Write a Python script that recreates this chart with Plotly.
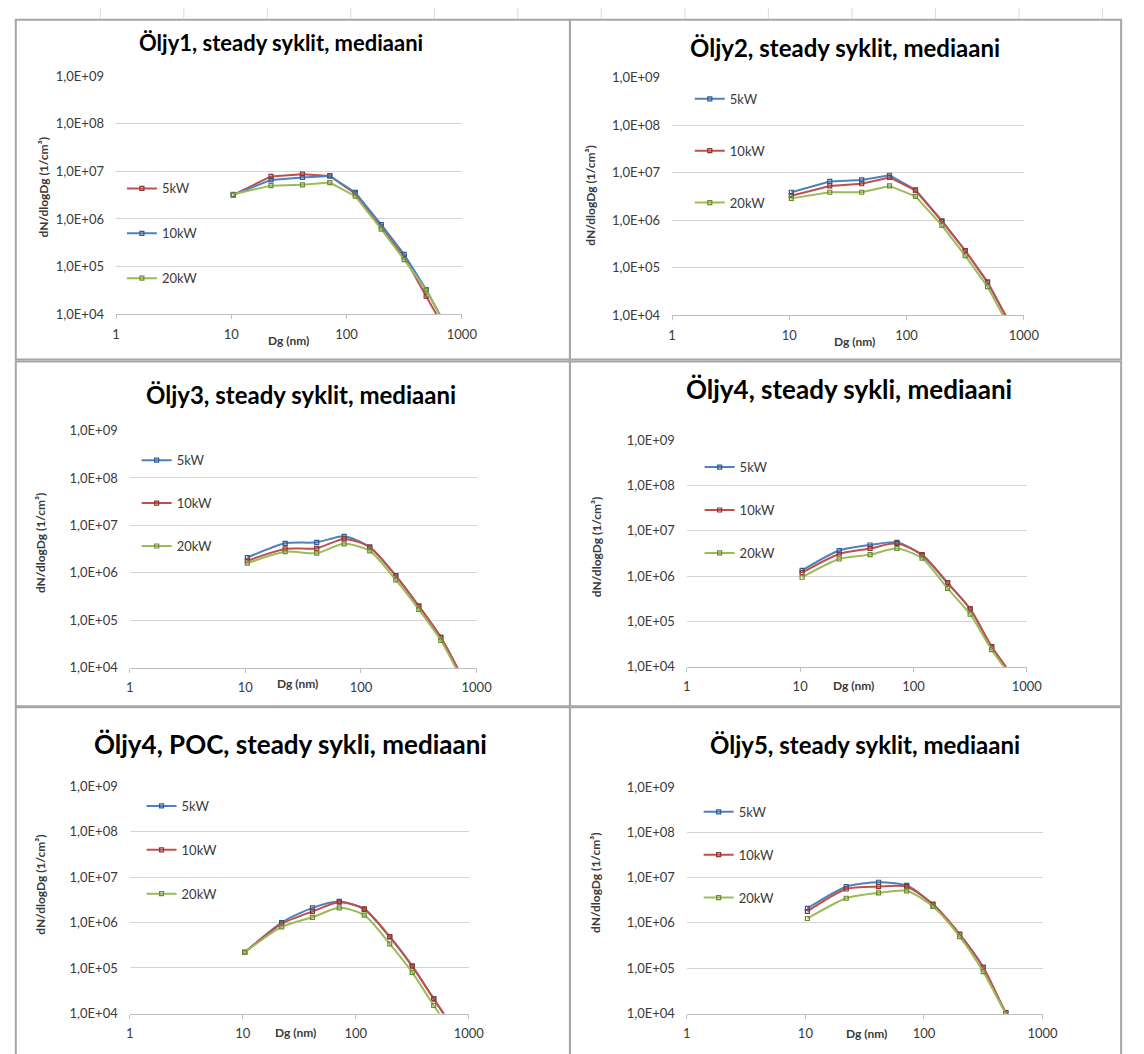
import plotly.graph_objects as go

# Particle size distributions (dN/dlogDg, 1/cm3) by boiler power, six oil runs
DG_NM = [10.4, 22.1, 41.4, 71.5, 119, 200, 316, 490, 770]

OLJY1_5KW = [3.2e6, 7.8e6, 8.7e6, 8.0e6, 3.4e6, 6.9e5, 1.6e5, 2.4e4, 3.5e3]
OLJY1_10KW = [3.2e6, 6.6e6, 7.4e6, 8.0e6, 3.6e6, 7.6e5, 1.8e5, 3.3e4, 4.5e3]
OLJY1_20KW = [3.3e6, 5.0e6, 5.2e6, 5.8e6, 3.0e6, 6.1e5, 1.4e5, 3.2e4, 4.3e3]

OLJY2_5KW = [3.9e6, 6.6e6, 7.1e6, 8.9e6, 4.4e6, 9.8e5, 2.3e5, 5.0e4, 6.3e3]
OLJY2_10KW = [3.3e6, 5.3e6, 5.9e6, 8.0e6, 4.3e6, 9.5e5, 2.3e5, 5.0e4, 6.3e3]
OLJY2_20KW = [2.9e6, 3.9e6, 3.9e6, 5.3e6, 3.2e6, 7.8e5, 1.8e5, 4.0e4, 5.0e3]

OLJY3_5KW = [2.1e6, 4.2e6, 4.4e6, 5.9e6, 3.5e6, 8.8e5, 2.0e5, 4.4e4, 5.6e3]
OLJY3_10KW = [1.8e6, 3.2e6, 3.3e6, 5.2e6, 3.5e6, 8.6e5, 2.0e5, 4.4e4, 5.6e3]
OLJY3_20KW = [1.6e6, 2.8e6, 2.6e6, 4.1e6, 2.9e6, 7.1e5, 1.7e5, 3.8e4, 4.8e3]

OLJY4_5KW = [1.35e6, 3.7e6, 4.9e6, 5.6e6, 2.9e6, 7.0e5, 1.9e5, 2.7e4, 5.5e3]
OLJY4_10KW = [1.2e6, 3.1e6, 4.1e6, 5.3e6, 3.0e6, 7.2e5, 1.9e5, 2.8e4, 5.8e3]
OLJY4_20KW = [0.95e6, 2.4e6, 3.0e6, 4.1e6, 2.5e6, 5.4e5, 1.45e5, 2.4e4, 5.0e3]

OLJY4_POC_5KW = [2.2e5, 1.0e6, 2.1e6, 2.9e6, 1.95e6, 4.8e5, 1.1e5, 2.1e4, 3.9e3]
OLJY4_POC_10KW = [2.2e5, 9.3e5, 1.75e6, 2.8e6, 2.0e6, 4.9e5, 1.1e5, 2.1e4, 3.9e3]
OLJY4_POC_20KW = [2.2e5, 8.0e5, 1.3e6, 2.1e6, 1.45e6, 3.4e5, 8.0e4, 1.5e4, 2.8e3]

OLJY5_5KW = [2.1e6, 6.3e6, 7.9e6, 6.7e6, 2.5e6, 5.6e5, 1.05e5, 1.05e4, 1.8e3]
OLJY5_10KW = [1.8e6, 5.6e6, 6.3e6, 6.3e6, 2.6e6, 5.6e5, 1.05e5, 1.05e4, 1.8e3]
OLJY5_20KW = [1.25e6, 3.5e6, 4.6e6, 5.1e6, 2.3e6, 5.0e5, 8.4e4, 1.0e4, 1.7e3]

SERIES_NAMES = ["5kW", "10kW", "20kW"]
TITLES = [
    "Öljy1, steady syklit, mediaani",
    "Öljy2, steady syklit, mediaani",
    "Öljy3, steady syklit, mediaani",
    "Öljy4, steady sykli, mediaani",
    "Öljy4, POC, steady sykli, mediaani",
    "Öljy5, steady syklit, mediaani",
]
Y_TICKS = [1e4, 1e5, 1e6, 1e7, 1e8, 1e9]
Y_TICK_TEXT = ["1,0E+04", "1,0E+05", "1,0E+06", "1,0E+07", "1,0E+08", "1,0E+09"]
X_TICKS = [1, 10, 100, 1000]
X_TICK_TEXT = ["1", "10", "100", "1000"]

W, H = 1144, 1054
BLUE, RED, GREEN = "#4F81BD", "#C0504D", "#9BBB59"
MARK = {BLUE: "#2f5b8f", RED: "#8e3431", GREEN: "#6b8a35"}
FONT = "Lato, 'Open Sans', sans-serif"
TXT = "#3a3a3a"


def fx(p):
    return p / W


def fy(p):
    return 1 - p / H


# pixel layout of each chart: plot area, title (x, y, size), axis titles,
# legend corner and item gap, outer border
PANELS = [
    dict(series=[OLJY1_5KW, OLJY1_10KW, OLJY1_20KW], colors=[RED, BLUE, GREEN],
         plot=(114, 466, 69, 311), title=(282, 35, 22), xt=(290, 338), yt=(40, 182),
         leg=(120, 168, 25), shape="linear", box=(12, 576, 12, 357)),
    dict(series=[OLJY2_5KW, OLJY2_10KW, OLJY2_20KW], colors=[BLUE, RED, GREEN],
         plot=(680, 1038, 71, 312), title=(856, 40, 24), xt=(866, 339), yt=(597, 190),
         leg=(698, 77, 32), shape="linear", box=(576, 1137, 12, 357)),
    dict(series=[OLJY3_5KW, OLJY3_10KW, OLJY3_20KW], colors=[BLUE, RED, GREEN],
         plot=(128, 481, 429, 670), title=(302, 392, 24), xt=(299, 686), yt=(37, 543),
         leg=(135, 444, 23), shape="spline", box=(12, 576, 359, 709)),
    dict(series=[OLJY4_5KW, OLJY4_10KW, OLJY4_20KW], colors=[BLUE, RED, GREEN],
         plot=(695, 1041, 439, 669), title=(860, 387, 26), xt=(865, 688), yt=(603, 547),
         leg=(708, 451, 23), shape="spline", box=(576, 1137, 359, 709)),
    dict(series=[OLJY4_POC_5KW, OLJY4_POC_10KW, OLJY4_POC_20KW], colors=[BLUE, RED, GREEN],
         plot=(128, 473, 790, 1021), title=(292, 747, 26), xt=(297, 1040), yt=(37, 890),
         leg=(140, 795, 24), shape="spline", box=(12, 576, 710, 1070)),
    dict(series=[OLJY5_5KW, OLJY5_10KW, OLJY5_20KW], colors=[BLUE, RED, GREEN],
         plot=(695, 1057, 791, 1021), title=(876, 748, 24), xt=(878, 1041), yt=(602, 888),
         leg=(707, 801, 23), shape="spline", box=(576, 1137, 710, 1070)),
]

fig = go.Figure()
layout = {}
annotations = []
shapes = []

for i, p in enumerate(PANELS):
    n = "" if i == 0 else str(i + 1)
    xa, ya = "x" + n, "y" + n
    leg = "legend" + n
    x0, x1, y0, y1 = p["plot"]
    for name, vals, col in zip(SERIES_NAMES, p["series"], p["colors"]):
        fig.add_trace(go.Scatter(
            x=DG_NM, y=vals, name=name, xaxis=xa, yaxis=ya, legend=leg,
            legendgroup=f"{i}-{name}", mode="lines+markers",
            line=dict(color=col, width=2, shape=p["shape"], smoothing=0.7),
            marker=dict(symbol="square-open", size=4, color=MARK[col],
                        line=dict(width=1.2, color=MARK[col])),
            cliponaxis=True,
        ))
    layout["xaxis" + n] = dict(
        type="log", range=[0, 3], domain=[fx(x0), fx(x1)], anchor=ya,
        tickvals=X_TICKS, ticktext=X_TICK_TEXT, showgrid=False, zeroline=False,
        showline=True, linecolor="#bfbfbf", linewidth=1,
        ticks="outside", ticklen=4, tickcolor="#bfbfbf", ticklabelstandoff=4,
        tickfont=dict(family=FONT, size=13, color=TXT),
    )
    layout["yaxis" + n] = dict(
        type="log", range=[4, 9], domain=[fy(y1), fy(y0)], anchor=xa,
        tickvals=Y_TICKS, ticktext=Y_TICK_TEXT, showgrid=True,
        gridcolor="#d4d4d4", gridwidth=1, zeroline=False, showline=False,
        ticks="", ticklabelstandoff=11,
        tickfont=dict(family=FONT, size=13, color=TXT),
    )
    lx, ly, gap = p["leg"]
    layout[leg] = dict(
        x=fx(lx), y=fy(ly), xanchor="left", yanchor="top",
        bgcolor="rgba(0,0,0,0)", borderwidth=0, itemwidth=30,
        tracegroupgap=gap, font=dict(family=FONT, size=13, color=TXT),
    )
    tx, ty, ts = p["title"]
    annotations.append(dict(
        text=f"<b>{TITLES[i]}</b>", x=fx(tx), y=fy(ty), xref="paper", yref="paper",
        xanchor="center", yanchor="middle", showarrow=False,
        font=dict(family=FONT, size=ts, color="#000000"),
    ))
    annotations.append(dict(
        text="<b>Dg (nm)</b>", x=fx(p["xt"][0]), y=fy(p["xt"][1]), xref="paper",
        yref="paper", xanchor="center", yanchor="middle", showarrow=False,
        font=dict(family=FONT, size=12, color=TXT),
    ))
    annotations.append(dict(
        text="<b>dN/dlogDg (1/cm³)</b>", x=fx(p["yt"][0]), y=fy(p["yt"][1]),
        xref="paper", yref="paper", xanchor="center", yanchor="middle",
        textangle=-90, showarrow=False,
        font=dict(family=FONT, size=12, color=TXT),
    ))
    bx0, bx1, by0, by1 = p["box"]
    shapes.append(dict(
        type="rect", xref="paper", yref="paper", x0=fx(bx0), x1=fx(bx1),
        y0=fy(by1), y1=fy(by0), line=dict(color="#a6a6a6", width=2),
        layer="below",
    ))

# worksheet cell lines peeking out above the charts
for cx in range(98, W, 85):
    shapes.append(dict(type="line", xref="paper", yref="paper", x0=fx(cx), x1=fx(cx),
                       y0=fy(11), y1=1, line=dict(color="#dcdcdc", width=1),
                       layer="below"))

fig.update_layout(
    width=W, height=H, margin=dict(l=0, r=0, t=0, b=0),
    paper_bgcolor="white", plot_bgcolor="white",
    annotations=annotations, shapes=shapes, showlegend=True,
    **layout,
)

# page body without default margin so the figure fills the window exactly
fig.write_html(
    "out.html",
    post_script="document.body.style.margin='0';document.body.style.overflow='hidden';",
)
